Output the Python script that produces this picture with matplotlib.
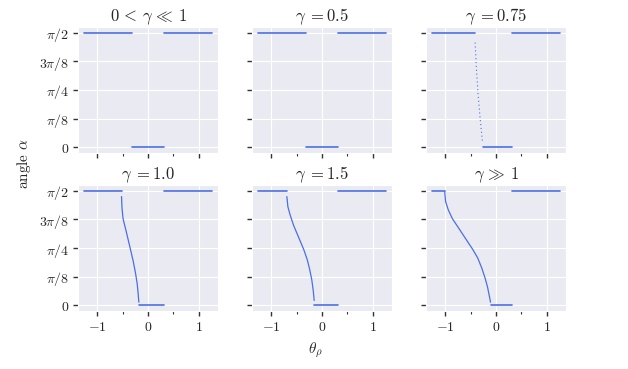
import numpy as np
import matplotlib
matplotlib.use("Agg")
import matplotlib.pyplot as plt
import seaborn as sns

sns.set_style("darkgrid")
plt.rcParams["font.family"] = ["DejaVu Serif", "DejaVu Sans"]
plt.rcParams["mathtext.fontset"] = "cm"
plt.rcParams["xtick.bottom"] = True
plt.rcParams["ytick.left"] = True

HALF_PI = np.pi / 2

titles = [r"$0\,<\,\gamma\,\ll\,1$", r"$\gamma\;=0.5$", r"$\gamma\;=0.75$",
          r"$\gamma\;=1.0$", r"$\gamma\;=1.5$", r"$\gamma\,\gg\,1$"]

# flat segment extents (theta) per panel: top-left plateau, bottom plateau, top-right plateau
top_left = [(-1.25, -0.31), (-1.25, -0.31), (-1.25, -0.41),
            (-1.25, -0.52), (-1.25, -0.69), (-1.25, -1.008)]
bottom_mid = [(-0.31, 0.31), (-0.31, 0.31), (-0.253, 0.313),
              (-0.18, 0.32), (-0.153, 0.32), (-0.107, 0.32)]
top_right = [(0.31, 1.25), (0.31, 1.25), (0.313, 1.25),
             (0.32, 1.25), (0.32, 1.25), (0.32, 1.25)]

# transition curves (theta, alpha)
curve3_x = [-0.41, -0.387, -0.353, -0.313, -0.267]
curve3_y = [1.436, 1.108, 0.735, 0.407, 0.08]
curve4_x = [-0.52, -0.51, -0.49, -0.424, -0.36, -0.29, -0.245, -0.213, -0.193, -0.18]
curve4_y = [1.491, 1.328, 1.187, 1.000, 0.813, 0.603, 0.439, 0.299, 0.159, 0.042]
curve5_x = [-0.69, -0.67, -0.624, -0.557, -0.458, -0.36, -0.29, -0.24, -0.20, -0.173, -0.153]
curve5_y = [1.491, 1.351, 1.234, 1.094, 0.930, 0.767, 0.626, 0.486, 0.346, 0.206, 0.065]
curve6_x = [-1.008, -0.99, -0.935, -0.856, -0.723, -0.591, -0.458, -0.36, -0.279, -0.213,
            -0.167, -0.14, -0.12, -0.107]
curve6_y = [1.561, 1.421, 1.304, 1.187, 1.047, 0.907, 0.767, 0.650, 0.510, 0.369,
            0.252, 0.159, 0.089, 0.042]
curves = [None, None, (curve3_x, curve3_y), (curve4_x, curve4_y),
          (curve5_x, curve5_y), (curve6_x, curve6_y)]

ytick_vals = [0, np.pi / 8, np.pi / 4, 3 * np.pi / 8, np.pi / 2]
ytick_labels = [r"$0$", r"$\pi/8$", r"$\pi/4$", r"$3\pi/8$", r"$\pi/2$"]
xtick_vals = [-1, 0, 1]
xtick_labels = [r"$-1$", r"$0$", r"$1$"]
xminor_vals = [-0.5, 0.5]

color = "#4a6fe3"

fig = plt.figure(figsize=(6.28, 3.69), dpi=100)
lefts = [78 / 628, 252 / 628, 426 / 628]
bottoms = [1 - 153 / 369, 1 - 311 / 369]
w = 140 / 628
h = 126 / 369

for i in range(6):
    r, c = divmod(i, 3)
    ax = fig.add_axes([lefts[c], bottoms[r], w, h])
    lw = 1.2
    ax.plot(top_left[i], [HALF_PI, HALF_PI], color=color, lw=lw)
    ax.plot(bottom_mid[i], [0, 0], color=color, lw=lw)
    ax.plot(top_right[i], [HALF_PI, HALF_PI], color=color, lw=lw)
    if curves[i] is not None:
        cx, cy = curves[i]
        if i == 2:
            ax.plot(cx, cy, color=color, lw=0.8, ls=(0, (1, 2.5)))
        else:
            ax.plot(cx, cy, color=color, lw=0.9)
    ax.set_xlim(-1.375, 1.375)
    ax.set_ylim(-0.0785, HALF_PI + 0.0785)
    ax.set_yticks(ytick_vals)
    ax.set_xticks(xtick_vals)
    ax.set_xticks(xminor_vals, minor=True)
    ax.grid(True, which="major", color="white", lw=0.8)
    ax.grid(False, which="minor")
    ax.tick_params(axis="both", which="major", length=3.5, width=1, color="0.2",
                   labelsize=10, pad=3)
    ax.tick_params(axis="x", which="minor", length=2, width=0.8, color="0.2")
    if c == 0:
        ax.set_yticklabels(ytick_labels)
    else:
        ax.set_yticklabels([])
    if r == 1:
        ax.set_xticklabels(xtick_labels)
    else:
        ax.set_xticklabels([])
    ax.set_title(titles[i], fontsize=12, pad=4)

fig.text(315 / 628, 1 - 350 / 369, r"$\theta_\rho$", ha="center", va="center", fontsize=11)
fig.text(24 / 628, 1 - 164 / 369, r"$\mathrm{angle}\ \alpha$", ha="center", va="center",
         rotation=90, fontsize=11)

fig.savefig("out.png", dpi=100)
